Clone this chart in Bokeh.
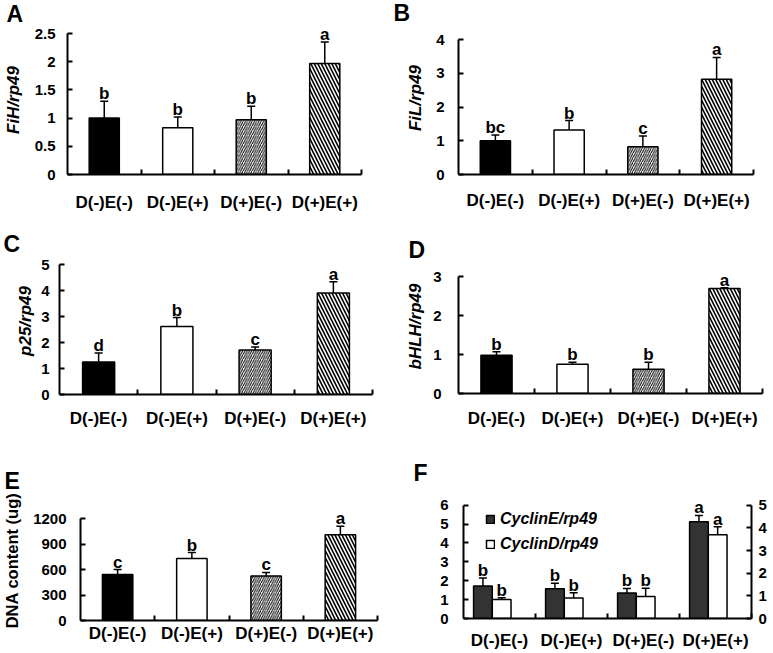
import numpy as np
from bokeh.plotting import figure
from bokeh.models import (Range1d, FixedTicker, NumeralTickFormatter, LinearAxis,
                          Legend, LegendItem, ColumnDataSource)
from bokeh.layouts import column, row
from bokeh.embed import file_html
from bokeh.resources import INLINE
from bokeh.core.properties import value

# ---------------- data ----------------
categories = ["D(-)E(-)", "D(-)E(+)", "D(+)E(-)", "D(+)E(+)"]

fih_mean = [1.00, 0.83, 0.97, 1.97]
fih_err = [0.30, 0.19, 0.24, 0.38]
fih_sig = ["b", "b", "b", "a"]
fih_ticks = [0, 0.5, 1, 1.5, 2, 2.5]

fil_mean = [1.00, 1.32, 0.82, 2.82]
fil_err = [0.17, 0.28, 0.32, 0.65]
fil_sig = ["bc", "b", "c", "a"]
fil_ticks = [0, 1, 2, 3, 4]

p25_mean = [1.25, 2.62, 1.72, 3.92]
p25_err = [0.35, 0.35, 0.11, 0.43]
p25_sig = ["d", "b", "c", "a"]
p25_ticks = [0, 1, 2, 3, 4, 5]

bhlh_mean = [0.98, 0.75, 0.62, 2.70]
bhlh_err = [0.09, 0.05, 0.18, 0.02]
bhlh_sig = ["b", "b", "b", "a"]
bhlh_ticks = [0, 1, 2, 3]

dna_mean = [540, 730, 525, 1010]
dna_err = [60, 70, 40, 100]
dna_sig = ["c", "b", "c", "a"]
dna_ticks = [0, 300, 600, 900, 1200]

cyce_mean = [1.72, 1.58, 1.35, 5.12]
cyce_err = [0.42, 0.29, 0.24, 0.34]
cyce_sig = ["b", "b", "b", "a"]
cyce_ticks = [0, 1, 2, 3, 4, 5, 6]

cycd_mean = [0.84, 0.91, 0.97, 3.70]
cycd_err = [0.08, 0.23, 0.36, 0.35]
cycd_sig = ["b", "b", "b", "a"]
cycd_ticks = [0, 1, 2, 3, 4, 5]

# ---------------- style ----------------
FONT = "Liberation Sans"
bar_fill = ["black", "white", "white", "white"]
bar_hatch = [" ", " ", "/", "\\"]
bar_hatch_scale = [6, 6, 4.5, 7]
bar_hatch_weight = [1, 1, 1, 1.6]

n = len(categories)
centers = [i + 0.5 for i in range(n)]
bounds = [i + 1.0 for i in range(n)]


def style_yaxis(ya, tick_standoff, top):
    ya.bounds = (0, top)
    ya.axis_line_width = 2
    ya.axis_line_color = "black"
    ya.major_tick_in = 5
    ya.major_tick_out = 0
    ya.major_tick_line_width = 2
    ya.major_tick_line_color = "black"
    ya.minor_tick_line_color = None
    ya.major_label_text_font = FONT
    ya.major_label_text_font_style = "bold"
    ya.major_label_text_font_size = "15px"
    ya.major_label_text_color = "black"
    ya.major_label_standoff = tick_standoff


def padded(top, FH, head):
    return top * (FH + head) / FH


def make_fig(W, H, L, T, FW, FH, yticks, ylabel, tick_standoff, lab_standoff,
             x_standoff, letter, letter_x, title_standoff, head=18, ylab_size="17px"):
    top_frame = T - head
    p = figure(width=W, height=H, x_range=Range1d(0, n),
               y_range=Range1d(0, padded(yticks[-1], FH, head)),
               toolbar_location=None, output_backend="svg",
               min_border_left=L, min_border_top=top_frame,
               min_border_right=W - L - FW, min_border_bottom=H - T - FH,
               x_axis_type=None, y_axis_type=None, frame_align=False,
               title=letter)
    p.outline_line_color = None
    p.background_fill_color = "white"
    p.border_fill_color = "white"

    p.title.align = "left"
    p.title.offset = letter_x - L
    p.title.standoff = title_standoff
    p.title.text_font = FONT
    p.title.text_font_style = "bold"
    p.title.text_font_size = "23px"
    p.title.text_color = "black"

    xa = LinearAxis(ticker=FixedTicker(ticks=centers, minor_ticks=bounds),
                    major_label_overrides={c: lab for c, lab in zip(centers, categories)})
    xa.axis_line_width = 2
    xa.axis_line_color = "black"
    xa.major_tick_in = 0
    xa.major_tick_out = 0
    xa.minor_tick_in = 5
    xa.minor_tick_out = 0
    xa.minor_tick_line_width = 2
    xa.minor_tick_line_color = "black"
    xa.major_label_text_font = FONT
    xa.major_label_text_font_style = "bold"
    xa.major_label_text_font_size = "17px"
    xa.major_label_text_color = "black"
    xa.major_label_standoff = x_standoff
    p.add_layout(xa, "below")

    ya = LinearAxis(ticker=FixedTicker(ticks=yticks),
                    formatter=NumeralTickFormatter(format="0.[0]"))
    style_yaxis(ya, tick_standoff, yticks[-1])
    if ylabel:
        ya.axis_label = ylabel
        ya.axis_label_text_font = FONT
        ya.axis_label_text_font_size = ylab_size
        ya.axis_label_text_font_style = "bold italic" if "/" in ylabel else "bold"
        ya.axis_label_text_color = "black"
        ya.axis_label_standoff = lab_standoff
    p.add_layout(ya, "left")
    return p


def draw_bars(p, xs, mean, err, sig, width, fill, hatch, hscale, hweight,
              y_range_name="default"):
    src = ColumnDataSource(dict(x=xs, top=mean, err_top=list(np.add(mean, err)),
                                sig=sig, fill=fill, hatch=hatch,
                                hscale=hscale, hweight=hweight))
    r = p.vbar(x="x", top="top", bottom=0, width=width, source=src,
               fill_color="fill", line_color="black", line_width=1.5,
               hatch_pattern="hatch", hatch_color="black", hatch_scale="hscale",
               hatch_weight="hweight", y_range_name=y_range_name)
    p.segment(x0="x", y0="top", x1="x", y1="err_top", source=src,
              line_color="black", line_width=1.5, y_range_name=y_range_name)
    p.scatter(x="x", y="err_top", marker="dash", size=8, source=src,
              line_color="black", line_width=1.5, y_range_name=y_range_name)
    p.text(x="x", y="err_top", text="sig", source=src, text_align="center",
           text_baseline="bottom", y_offset=2, text_font=value(FONT),
           text_font_style="bold", text_font_size="17px", text_color="black",
           y_range_name=y_range_name)
    return r


single = dict(width=0.41, fill=bar_fill, hatch=bar_hatch,
              hscale=bar_hatch_scale, hweight=bar_hatch_weight)

pA = make_fig(390, 215, 65, 33, 296, 141, fih_ticks, "FiH/rp49", 12, 9, 18, "A", 4, -3, head=8)
draw_bars(pA, centers, fih_mean, fih_err, fih_sig, **single)

pB = make_fig(382, 215, 68, 39, 295, 135, fil_ticks, "FiL/rp49", 14, 8, 16, "B", 3, -9)
draw_bars(pB, centers, fil_mean, fil_err, fil_sig, **single)

pC = make_fig(390, 215, 59, 50, 313, 134, p25_ticks, "p25/rp49", 10, 3, 14, "C", 3, -18)
draw_bars(pC, centers, p25_mean, p25_err, p25_sig, **single)

pD = make_fig(382, 215, 68, 62, 304, 122, bhlh_ticks, "bHLH/rp49", 17, 5, 15, "D", 18, -6)
draw_bars(pD, centers, bhlh_mean, bhlh_err, bhlh_sig, **single)

pE = make_fig(390, 222, 79, 88, 298, 102, dna_ticks, "DNA content (ug)", 14, 9, 3, "E", 3, 14,
              ylab_size="16.5px")
draw_bars(pE, centers, dna_mean, dna_err, dna_sig, **single)

pF = make_fig(382, 222, 73, 75, 288, 115, cyce_ticks, None, 15, 0, 12, "F", 23, 4)
pF.extra_y_ranges = {"right": Range1d(0, padded(cycd_ticks[-1], 115, 18))}
ra = LinearAxis(y_range_name="right", ticker=FixedTicker(ticks=cycd_ticks),
                formatter=NumeralTickFormatter(format="0.[0]"))
style_yaxis(ra, 7, cycd_ticks[-1])
pF.add_layout(ra, "right")

grp_w = 0.26
rE = draw_bars(pF, [c - 0.23 for c in centers], cyce_mean, cyce_err, cyce_sig, grp_w,
               ["#333333"] * n, [" "] * n, [6] * n, [1] * n)
rD = draw_bars(pF, [c + 0.03 for c in centers], cycd_mean, cycd_err, cycd_sig, grp_w,
               ["white"] * n, [" "] * n, [6] * n, [1] * n, y_range_name="right")

legend = Legend(items=[LegendItem(label="CyclinE/rp49", renderers=[rE]),
                       LegendItem(label="CyclinD/rp49", renderers=[rD])],
                location=(22, 64), padding=0, spacing=5, label_standoff=5,
                glyph_width=10, glyph_height=10, label_height=20,
                background_fill_alpha=0, border_line_alpha=0,
                label_text_font=FONT, label_text_font_style="bold italic",
                label_text_font_size="16px", label_text_color="black")
pF.add_layout(legend, "center")

layout = column(row(pA, pB), row(pC, pD), row(pE, pF))

with open("out.html", "w") as f:
    f.write(file_html(layout, INLINE))
